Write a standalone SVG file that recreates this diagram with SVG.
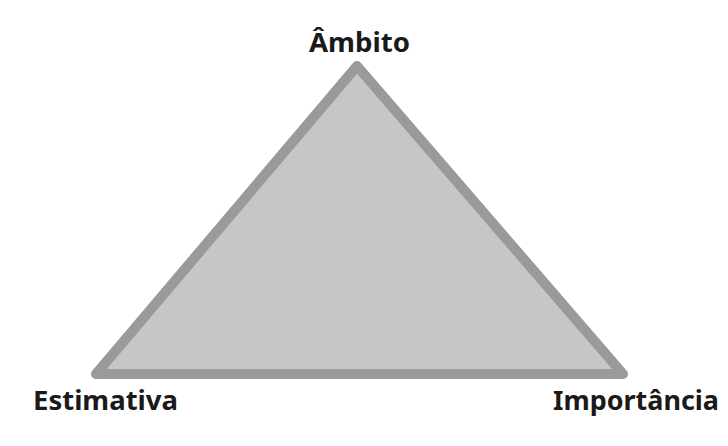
<svg xmlns="http://www.w3.org/2000/svg" width="728" height="446" viewBox="0 0 728 446">
<style>
.lbl{font-family:"Noto Sans","Open Sans","DejaVu Sans",sans-serif;font-weight:bold;font-size:27px;fill:#1a1a1a}
</style>
<rect width="728" height="446" fill="#ffffff"/>
<g id="triangle">
<polygon points="357,66 96,374 623,374" fill="#c6c6c6" stroke="#9a9a9a" stroke-width="10" stroke-linejoin="round"/>
</g>
<g id="ambito"><text class="lbl" x="309" y="52" textLength="101" lengthAdjust="spacingAndGlyphs">Âmbito</text></g>
<g id="estimativa"><text class="lbl" x="33" y="410" textLength="145" lengthAdjust="spacingAndGlyphs">Estimativa</text></g>
<g id="importancia"><text class="lbl" x="553" y="410" textLength="166" lengthAdjust="spacingAndGlyphs">Importância</text></g>
<g id="connectors"></g>
</svg>
